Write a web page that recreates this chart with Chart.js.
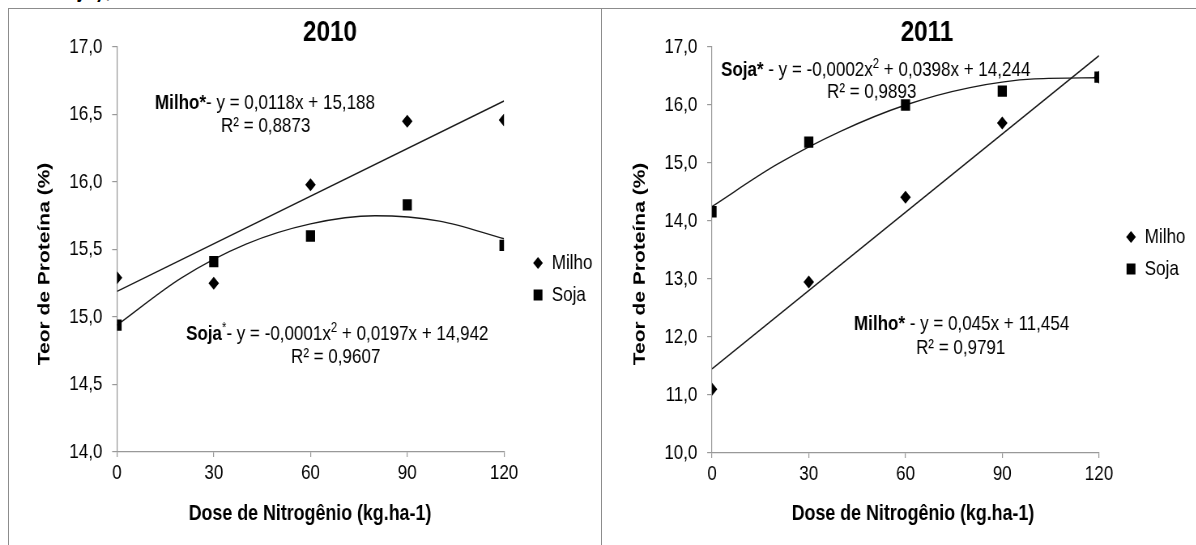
<!DOCTYPE html>
<html>
<head>
<meta charset="utf-8">
<script src="https://cdn.jsdelivr.net/npm/chart.js@4.4.1/dist/chart.umd.min.js"></script>
<style>
  body { margin: 0; background: #fff; width: 1196px; height: 545px; overflow: hidden; position: relative; }
  /* the source figure is squeezed horizontally, so the canvases are too */
  canvas { position: absolute; top: 0; transform: scaleX(0.81); transform-origin: 0 0; }
  #c2010 { left: 0; }
  #c2011 { left: 601px; }
  .frame { position: absolute; border-color: #8c8c8c; border-style: solid; border-width: 0; }
  #cut { position: absolute; left: 0; top: 0; width: 400px; height: 7px; overflow: hidden; }
  #cut span { position: absolute; left: 50px; top: -23px; font: bold 22px 'Liberation Sans', Arial, sans-serif;
              letter-spacing: 3px; transform: scaleX(0.81); transform-origin: 0 0; }
</style>
</head>
<body>
<div id="cut"><span>Soja),</span></div>
<canvas id="c2010" width="742" height="545"></canvas>
<canvas id="c2011" width="735" height="545"></canvas>
<div class="frame" style="left:8px;top:8px;width:1188px;height:537px;border-top-width:1px;border-left-width:1px;"></div>
<div class="frame" style="left:601px;top:8px;width:1px;height:537px;border-left-width:1px;"></div>
<script>
// Data
const doses = [0, 30, 60, 90, 120];

// 2010
const milho2010 = [15.29, 15.25, 15.98, 16.45, 16.46];
const soja2010 = [14.94, 15.41, 15.60, 15.83, 15.53];
// 2011
const milho2011 = [11.10, 12.95, 14.41, 15.69, 16.48];
const soja2011 = [14.16, 15.36, 16.00, 16.24, 16.48];

// Trend lines as drawn in the figure
const lineX = [0, 120];
const curveX = [0, 20, 40, 60, 80, 100, 120];
const milho2010Trend = [15.19, 16.60];
const soja2010Trend = [14.94, 15.29, 15.54, 15.69, 15.75, 15.71, 15.58];
const milho2011Trend = [11.45, 16.85];
const soja2011Trend = [14.25, 14.97, 15.55, 16.00, 16.30, 16.45, 16.47];

const xTicks = [0, 30, 60, 90, 120];
const yTicks2010 = [14.0, 14.5, 15.0, 15.5, 16.0, 16.5, 17.0];
const yTicks2011 = [10.0, 11.0, 12.0, 13.0, 14.0, 15.0, 16.0, 17.0];

const FONT = "'Liberation Sans', Arial, sans-serif";
const SX = 0.81; // horizontal squeeze of the canvases (see css)

function pts(xs, ys) {
    return xs.map((x, i) => ({ x: x, y: ys[i] }));
}

// draw a line of text made of runs: {t, b (bold), sup}
function drawRuns(ctx, runs, x, y, size) {
    ctx.textBaseline = 'middle';
    ctx.textAlign = 'left';
    runs.forEach(r => {
        const s = r.sup ? Math.round(size * 0.65) : size;
        ctx.font = (r.b ? 'bold ' : '') + s + 'px ' + FONT;
        ctx.fillText(r.t, x, r.sup ? y - size * 0.3 : y);
        x += ctx.measureText(r.t).width;
    });
}

// Titles, equations, axis titles and legend (positions given in page pixels)
const notesPlugin = {
    id: 'notes',
    afterDraw(chart, args, opts) {
        const ctx = chart.ctx;
        const cx = x => (x - opts.offsetX) / SX;
        ctx.save();
        ctx.fillStyle = '#000';

        // chart title
        ctx.font = 'bold 30px ' + FONT;
        ctx.textAlign = 'center';
        ctx.textBaseline = 'middle';
        ctx.fillText(opts.title, cx(opts.titleX), 33);

        // x axis title
        ctx.font = 'bold 22px ' + FONT;
        ctx.fillText('Dose de Nitrogênio (kg.ha-1)', cx(opts.xTitleX), 514);

        // y axis title
        ctx.font = 'bold 21px ' + FONT;
        ctx.save();
        ctx.translate(cx(opts.yTitleX), 264);
        ctx.rotate(-Math.PI / 2);
        ctx.fillText('Teor de Proteína (%)', 0, 0);
        ctx.restore();

        // equations
        opts.equations.forEach(eq => drawRuns(ctx, eq.runs, cx(eq.x), eq.y, 21));

        // legend
        const lx = cx(opts.legend.x), ly = opts.legend.y;
        ctx.beginPath();
        ctx.moveTo(lx, ly - 6);
        ctx.lineTo(lx + 6, ly);
        ctx.lineTo(lx, ly + 6);
        ctx.lineTo(lx - 6, ly);
        ctx.closePath();
        ctx.fill();
        ctx.fillRect(lx - 5.5, ly + 32 - 5.5, 11, 11);
        ctx.font = '21px ' + FONT;
        ctx.textAlign = 'left';
        ctx.fillText('Milho', lx + 17, ly);
        ctx.fillText('Soja', lx + 17, ly + 32);
        ctx.restore();
    }
};

function makeChart(id, cfg) {
    const canvas = document.getElementById(id);
    const ctx = canvas.getContext('2d');
    const left = cfg.notes.offsetX;
    const yWidth = (cfg.plotLeft - left) / SX;
    const padRight = canvas.width - (cfg.plotRight - left) / SX;
    return new Chart(ctx, {
        type: 'scatter',
        data: {
            datasets: [
                { label: 'Milho', data: pts(doses, cfg.milho), pointStyle: 'rectRot', pointRadius: 6.5,
                  backgroundColor: '#000', borderColor: '#000', borderWidth: 0 },
                { label: 'Soja', data: pts(doses, cfg.soja), pointStyle: 'rect', pointRadius: 8,
                  backgroundColor: '#000', borderColor: '#000', borderWidth: 0 },
                { label: 'Milho trend', data: pts(lineX, cfg.milhoTrend), showLine: true, pointRadius: 0,
                  borderColor: '#1a1a1a', borderWidth: 1.4 },
                { label: 'Soja trend', data: pts(curveX, cfg.sojaTrend), showLine: true, pointRadius: 0,
                  cubicInterpolationMode: 'monotone', borderColor: '#1a1a1a', borderWidth: 1.4 }
            ]
        },
        options: {
            responsive: false,
            animation: false,
            events: [],
            layout: { padding: { left: 0, top: 47, right: padRight, bottom: 0 } },
            plugins: {
                legend: { display: false },
                tooltip: { enabled: false },
                notes: cfg.notes
            },
            scales: {
                x: {
                    type: 'linear', min: 0, max: 120,
                    afterBuildTicks: s => { s.ticks = xTicks.map(v => ({ value: v })); },
                    afterFit: s => { s.height = 545 - cfg.plotBottom; },
                    grid: { drawOnChartArea: false, tickLength: 5, color: '#999', lineWidth: 1.2 },
                    border: { color: '#999', width: 1.2 },
                    ticks: { color: '#000', padding: 4, font: { family: FONT, size: 21 } }
                },
                y: {
                    min: cfg.yTicks[0], max: cfg.yTicks[cfg.yTicks.length - 1],
                    afterBuildTicks: s => { s.ticks = cfg.yTicks.map(v => ({ value: v })); },
                    afterFit: s => { s.width = yWidth; },
                    grid: { drawOnChartArea: false, tickLength: 6, color: '#999', lineWidth: 1.2 },
                    border: { color: '#999', width: 1.2 },
                    ticks: { color: '#000', padding: 12, font: { family: FONT, size: 21 },
                             callback: v => v.toFixed(1).replace('.', ',') }
                }
            }
        },
        plugins: [notesPlugin]
    });
}

// 2010 chart
makeChart('c2010', {
    milho: milho2010, soja: soja2010, milhoTrend: milho2010Trend, sojaTrend: soja2010Trend,
    yTicks: yTicks2010, plotLeft: 117, plotRight: 504, plotBottom: 452,
    notes: {
        offsetX: 0, title: '2010', titleX: 330, xTitleX: 310, yTitleX: 45,
        legend: { x: 538, y: 263 },
        equations: [
            { x: 155, y: 103, runs: [{ t: 'Milho*', b: true }, { t: '- y = 0,0118x + 15,188' }] },
            { x: 221, y: 126, runs: [{ t: 'R² = 0,8873' }] },
            { x: 186, y: 334, runs: [{ t: 'Soja', b: true }, { t: '*', sup: true }, { t: '- y = -0,0001x' },
                                     { t: '2', sup: true }, { t: ' + 0,0197x + 14,942' }] },
            { x: 291, y: 357, runs: [{ t: 'R² = 0,9607' }] }
        ]
    }
});

// 2011 chart
makeChart('c2011', {
    milho: milho2011, soja: soja2011, milhoTrend: milho2011Trend, sojaTrend: soja2011Trend,
    yTicks: yTicks2011, plotLeft: 712, plotRight: 1099, plotBottom: 453,
    notes: {
        offsetX: 601, title: '2011', titleX: 927, xTitleX: 913, yTitleX: 640,
        legend: { x: 1131, y: 237 },
        equations: [
            { x: 721, y: 70, runs: [{ t: 'Soja*', b: true }, { t: ' - y = -0,0002x' }, { t: '2', sup: true },
                                    { t: ' + 0,0398x + 14,244' }] },
            { x: 827, y: 92, runs: [{ t: 'R² = 0,9893' }] },
            { x: 854, y: 324, runs: [{ t: 'Milho*', b: true }, { t: ' - y = 0,045x + 11,454' }] },
            { x: 916, y: 348, runs: [{ t: 'R² = 0,9791' }] }
        ]
    }
});
</script>
</body>
</html>
